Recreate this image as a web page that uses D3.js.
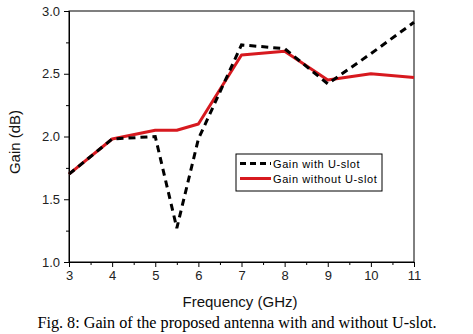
<!DOCTYPE html>
<html><head><meta charset="utf-8">
<script src="https://cdn.jsdelivr.net/npm/d3@7/dist/d3.min.js"></script>
<style>body{margin:0;background:#fff;}svg{display:block;}</style>
</head><body>
<svg id="chart" width="473" height="334"></svg>
<script>
const freq = [3, 4, 5, 5.5, 6, 7, 8, 9, 10, 11];
const gainWithSlot = [1.70, 1.98, 2.00, 1.27, 1.98, 2.73, 2.70, 2.42, 2.66, 2.91];
const gainWithoutSlot = [1.70, 1.98, 2.05, 2.05, 2.10, 2.65, 2.68, 2.45, 2.50, 2.47];
const xTicks = [3, 4, 5, 6, 7, 8, 9, 10, 11];
const yTicks = [1.0, 1.5, 2.0, 2.5, 3.0];
const seriesNames = ["Gain with U-slot", "Gain without U-slot"];

const svg = d3.select("#chart");
const m = {left: 69, right: 414, top: 11, bottom: 262};
const x = d3.scaleLinear().domain([3, 11]).range([m.left, m.right]);
const y = d3.scaleLinear().domain([1, 3]).range([m.bottom, m.top]);
const font = "'Liberation Sans', Arial, sans-serif";

// frame
svg.append("rect").attr("x", m.left).attr("y", m.top).attr("width", m.right - m.left).attr("height", m.bottom - m.top)
  .attr("fill", "none").attr("stroke", "#000").attr("stroke-width", 1);

// x axis
svg.append("g").attr("transform", `translate(0,${m.bottom})`)
  .call(d3.axisBottom(x).tickValues(xTicks).tickFormat(d3.format("d")).tickSize(5).tickPadding(4));
svg.append("g").attr("transform", `translate(0,${m.bottom})`)
  .call(d3.axisBottom(x).tickValues(d3.range(3.5, 11, 1)).tickFormat("").tickSize(3))
  .select(".domain").remove();
// y axis
svg.append("g").attr("transform", `translate(${m.left},0)`)
  .call(d3.axisLeft(y).tickValues(yTicks).tickFormat(d3.format(".1f")).tickSize(5).tickPadding(4));
svg.append("g").attr("transform", `translate(${m.left},0)`)
  .call(d3.axisLeft(y).tickValues([1.25, 1.75, 2.25, 2.75]).tickFormat("").tickSize(3))
  .select(".domain").remove();
svg.selectAll(".tick text").attr("font-family", font).attr("font-size", 13).attr("fill", "#222");
svg.selectAll(".domain, .tick line").attr("stroke", "#000");

// lines
const line = (vals) => d3.line().x((d, i) => x(freq[i])).y(d => y(d))(vals);
svg.append("path").attr("d", line(gainWithoutSlot)).attr("fill", "none")
  .attr("stroke", "#d7191f").attr("stroke-width", 3).attr("stroke-linejoin", "round");
svg.append("path").attr("d", line(gainWithSlot)).attr("fill", "none")
  .attr("stroke", "#000").attr("stroke-width", 3).attr("stroke-dasharray", "7,5");

// legend
const lg = svg.append("g");
lg.append("rect").attr("x", 236).attr("y", 154).attr("width", 146).attr("height", 37)
  .attr("fill", "#fff").attr("stroke", "#000").attr("stroke-width", 1);
const rows = [{name: seriesNames[0], color: "#000", dash: "6,4"}, {name: seriesNames[1], color: "#d7191f", dash: null}];
rows.forEach((r, i) => {
  const yy = 163.5 + i * 15;
  lg.append("line").attr("x1", 240).attr("x2", 271).attr("y1", yy).attr("y2", yy)
    .attr("stroke", r.color).attr("stroke-width", 3).attr("stroke-dasharray", r.dash);
  lg.append("text").attr("x", 273).attr("y", yy + 4).attr("font-family", font).attr("font-size", 11)
    .attr("letter-spacing", 0.6).attr("fill", "#000").text(r.name);
});

// axis titles
svg.append("text").attr("x", 240).attr("y", 307).attr("text-anchor", "middle")
  .attr("font-family", font).attr("font-size", 15).attr("fill", "#111").text("Frequency (GHz)");
svg.append("text").attr("transform", "translate(20,142) rotate(-90)").attr("text-anchor", "middle")
  .attr("font-family", font).attr("font-size", 15).attr("fill", "#111").text("Gain (dB)");

// caption
svg.append("text").attr("x", 237).attr("y", 328).attr("text-anchor", "middle")
  .attr("font-family", "'Liberation Serif', 'Times New Roman', serif").attr("font-size", 16.2).attr("fill", "#000")
  .text("Fig. 8: Gain of the proposed antenna with and without U-slot.");
</script>
</body></html>
